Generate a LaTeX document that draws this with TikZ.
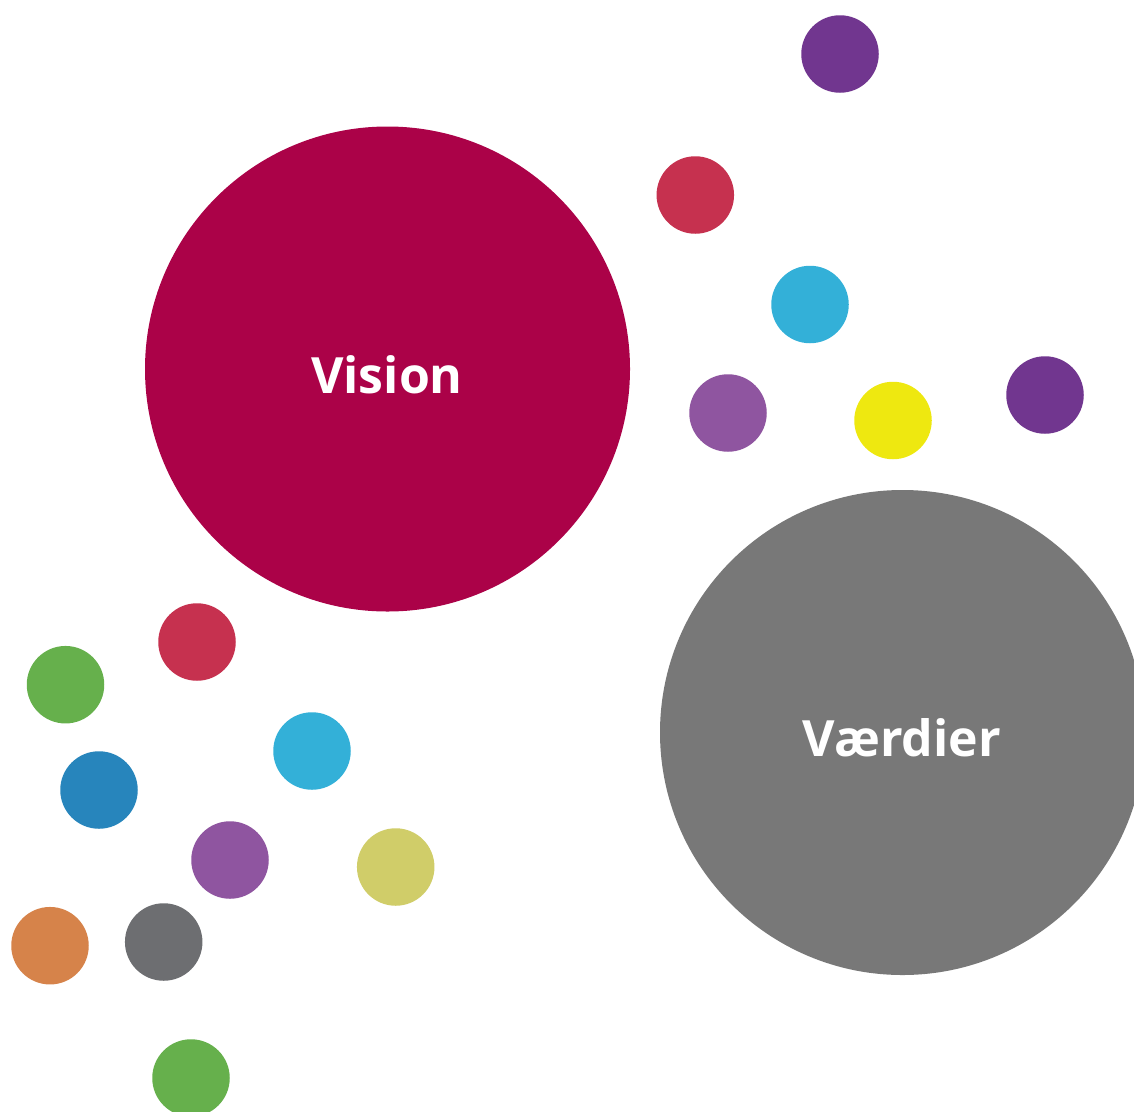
\documentclass[tikz,border=0pt]{standalone}
\usepackage{fontspec}
\setmainfont{Open Sans}
\definecolor{cVision}{HTML}{AB0248}
\definecolor{cVaerdier}{HTML}{787878}
\definecolor{cPurple}{HTML}{71368F}
\definecolor{cRed}{HTML}{C6314F}
\definecolor{cCyan}{HTML}{33B0D8}
\definecolor{cLavender}{HTML}{8F55A0}
\definecolor{cYellow}{HTML}{EEE810}
\definecolor{cGreen}{HTML}{66B04C}
\definecolor{cBlue}{HTML}{2785BC}
\definecolor{cOlive}{HTML}{D0CD69}
\definecolor{cOrange}{HTML}{D6834A}
\definecolor{cGray}{HTML}{6D6E71}
\begin{document}
\begin{tikzpicture}[x=1pt,y=-1pt,
  bigcircle/.style={circle,inner sep=0pt,minimum size=485pt},
  dot/.style={circle,inner sep=0pt,minimum size=77.5pt},
  label/.style={text=white,font=\fontsize{50}{50}\selectfont\bfseries,anchor=base}]
\useasboundingbox (0,0) rectangle (1134,1111);
\clip (0,0) rectangle (1134,1111);
\node[bigcircle,fill=cVision] (vision) at (387.5,369) {};
\node[bigcircle,fill=cVaerdier] (vaerdier) at (902.5,732.5) {};
\node[label] (visiontext) at (387,393) {Vision};
\node[label] (vaerdiertext) at (902,756) {Værdier};
% right group
\node[dot,fill=cPurple] (d1) at (840,54) {};
\node[dot,fill=cRed] (d2) at (695.3,195) {};
\node[dot,fill=cCyan] (d3) at (810,304.5) {};
\node[dot,fill=cLavender] (d4) at (728,413) {};
\node[dot,fill=cYellow] (d5) at (893,420.5) {};
\node[dot,fill=cPurple] (d6) at (1045,395) {};
% left group
\node[dot,fill=cRed] (e1) at (197,642) {};
\node[dot,fill=cGreen] (e2) at (65.5,684.7) {};
\node[dot,fill=cCyan] (e3) at (312,751) {};
\node[dot,fill=cBlue] (e4) at (99,790) {};
\node[dot,fill=cLavender] (e5) at (230,860) {};
\node[dot,fill=cOlive] (e6) at (395.7,867) {};
\node[dot,fill=cOrange] (e7) at (50,945.7) {};
\node[dot,fill=cGray] (e8) at (163.7,942) {};
\node[dot,fill=cGreen] (e9) at (191,1078) {};
\end{tikzpicture}
\end{document}
